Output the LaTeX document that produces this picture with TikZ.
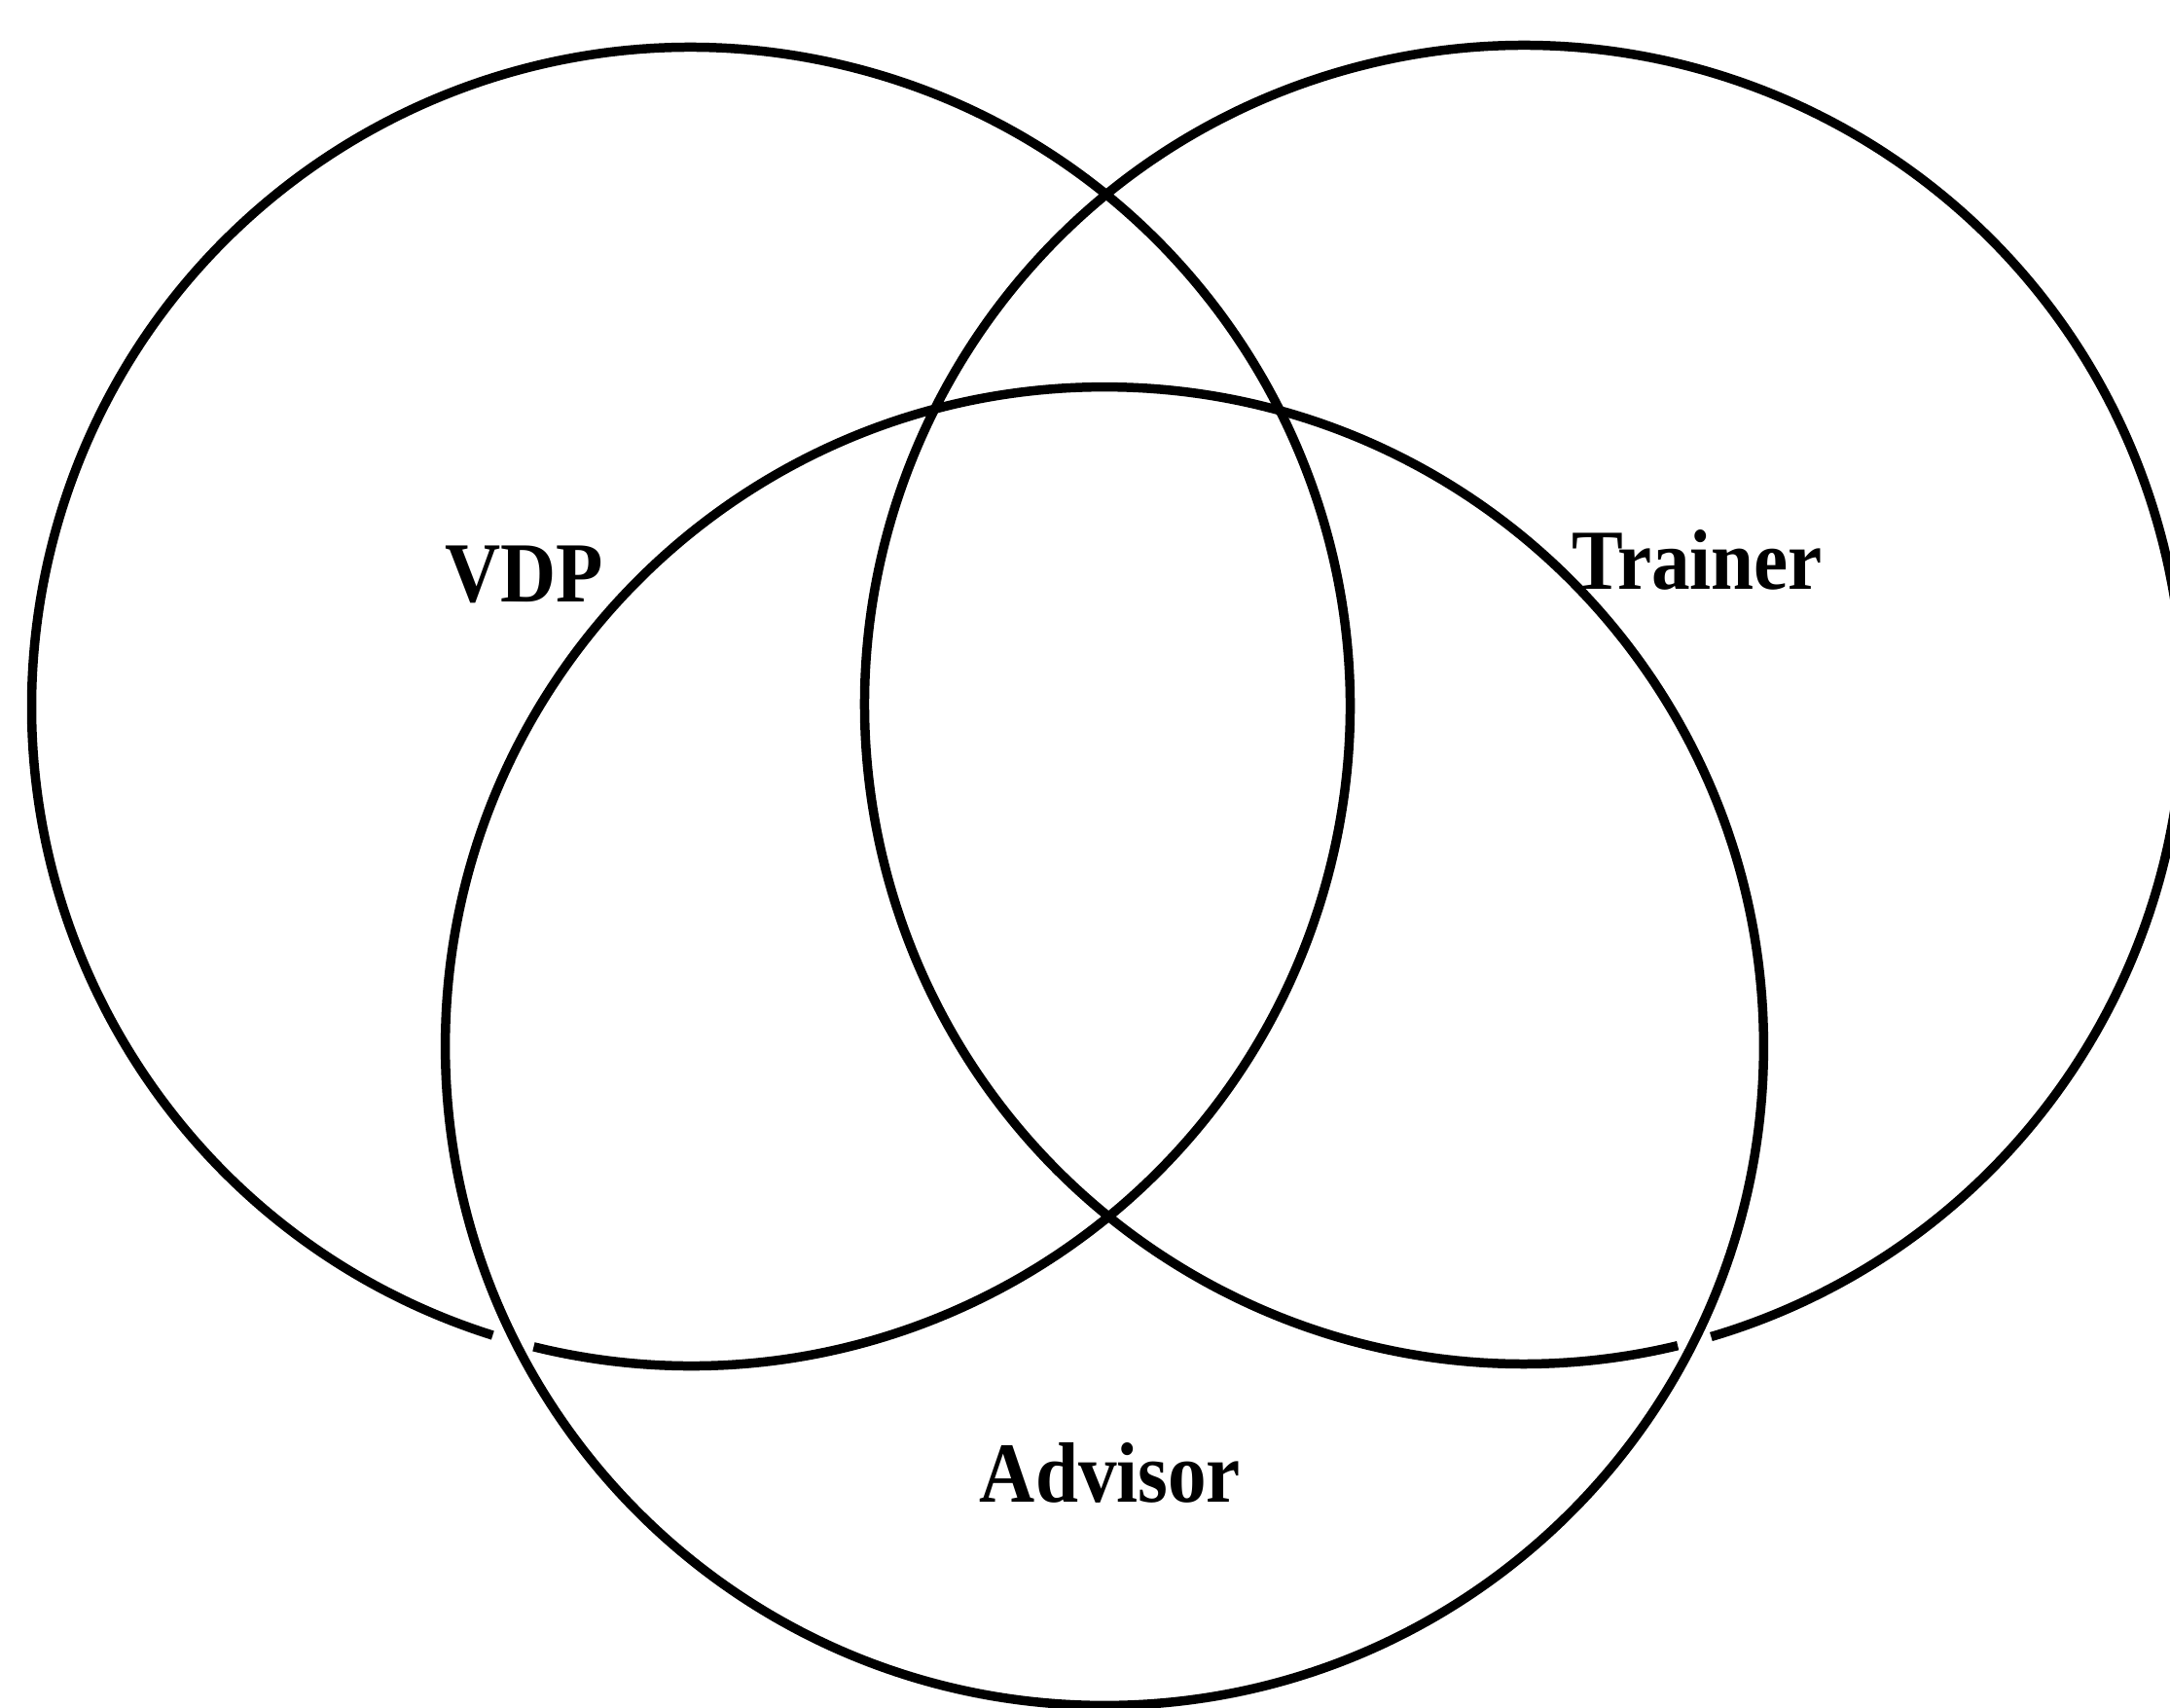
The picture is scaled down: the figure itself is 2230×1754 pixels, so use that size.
\documentclass[tikz,border=0pt]{standalone}
\usepackage{fontspec}
\setmainfont{Liberation Serif}
\begin{document}
\begin{tikzpicture}[x=0.01cm,y=-0.01cm,
  ring/.style={draw=black,line width=2.7pt},
  lab/.style={font=\bfseries\fontsize{25}{30}\selectfont,anchor=base,inner sep=0pt,xscale=0.9}]
\useasboundingbox (0,0) rectangle (2230,1754);
\coordinate (L) at (710,726);
\coordinate (R) at (1566,724);
\coordinate (B) at (1135,1075);
\def\rr{6.77cm}
\draw[ring] ([shift={(256.2:\rr)}]L) arc[start angle=256.2,end angle=612.5,radius=\rr];
\draw[ring] ([shift={(-73.5:\rr)}]R) arc[start angle=-73.5,end angle=283.5-360+360,radius=\rr];
\draw[ring] (B) circle[radius=\rr];
\node[lab] (vdp) at (539,618) {VDP};
\node[lab] (trainer) at (1744,605) {Trainer};
\node[lab] (advisor) at (1141,1543) {Advisor};
\end{tikzpicture}
\end{document}
